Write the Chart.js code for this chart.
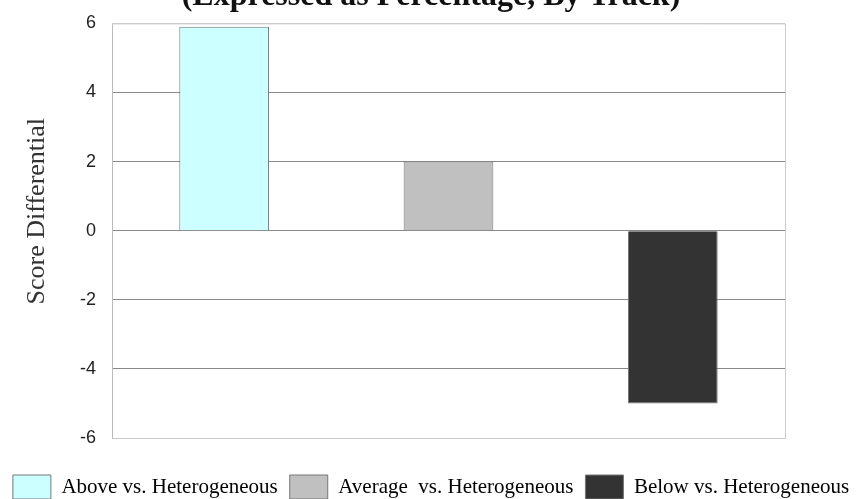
<!DOCTYPE html>
<html>
<head>
<meta charset="utf-8">
<script src="https://cdn.jsdelivr.net/npm/chart.js@4"></script>
<style>
  html, body { margin: 0; padding: 0; background: #fff; overflow: hidden; }
  #wrap { position: absolute; left: 0; top: -30px; width: 862px; height: 539px; }
</style>
</head>
<body>
<div id="wrap"><canvas id="scoreChart"></canvas></div>
<script>
// chart data
const categories = ["Above vs. Heterogeneous", "Average  vs. Heterogeneous", "Below vs. Heterogeneous"];
const scoreDiffs = [5.9, 2.0, -5.0];
const barColors = ["#ccffff", "#c0c0c0", "#333333"];
const yTicks = [-6, -4, -2, 0, 2, 4, 6];

// draw the light frame round the plot area (top and right edges)
const plotFrame = {
  id: "plotFrame",
  afterDraw(chart) {
    const { ctx, chartArea } = chart;
    ctx.save();
    ctx.strokeStyle = "#cccccc";
    ctx.lineWidth = 1;
    ctx.beginPath();
    ctx.moveTo(chartArea.left, chartArea.top + 0.5);
    ctx.lineTo(chartArea.right + 0.5, chartArea.top + 0.5);
    ctx.lineTo(chartArea.right + 0.5, chartArea.bottom);
    ctx.stroke();
    ctx.restore();
  },
};

const ctx = document.getElementById("scoreChart").getContext("2d");

new Chart(ctx, {
  type: "bar",
  data: {
    labels: categories,
    datasets: [
      {
        label: "Score Differential",
        data: scoreDiffs,
        backgroundColor: barColors,
        borderColor: "#777777",
        borderWidth: 1,
        barPercentage: 0.4,
        categoryPercentage: 1.0,
      },
    ],
  },
  options: {
    responsive: true,
    maintainAspectRatio: false,
    animation: false,
    layout: {
      padding: { left: 0, right: 0, top: 0, bottom: 0 },
    },
    scales: {
      x: {
        ticks: { display: false },
        grid: { display: false },
        border: { color: "#cccccc" },
        // no labels under the bars, just a gap above the legend
        afterFit: (axis) => {
          axis.height = 25;
        },
      },
      y: {
        min: -6,
        max: 6,
        afterBuildTicks: (axis) => {
          axis.ticks = yTicks.map((v) => ({ value: v }));
        },
        afterFit: (axis) => {
          axis.width = 112;
        },
        ticks: {
          color: "#222222",
          padding: 16,
          font: { family: "'Liberation Sans', Arial, sans-serif", size: 18 },
        },
        grid: {
          drawTicks: false,
          color: (c) =>
            c.tick && (c.tick.value === 6 || c.tick.value === -6) ? "#cccccc" : "#888888",
          lineWidth: 1,
        },
        border: { color: "#bbbbbb" },
        title: {
          display: true,
          // leading spaces lift the title a little above the plot's middle, as in the original
          text: "      Score Differential",
          color: "#333333",
          padding: { top: 22, bottom: 0 },
          font: { family: "'Liberation Serif', 'Times New Roman', serif", size: 26 },
        },
      },
      // empty axis on the right, only to keep the plot's right margin
      yRight: {
        position: "right",
        display: true,
        ticks: { display: false },
        grid: { display: false },
        border: { display: false },
        afterFit: (axis) => {
          axis.width = 77;
        },
      },
    },
    plugins: {
      title: {
        display: true,
        text: "(Expressed as Percentage, By Track)",
        color: "#111111",
        padding: { top: 8, bottom: 7 },
        font: { family: "'Liberation Serif', 'Times New Roman', serif", size: 32, weight: "bold" },
      },
      legend: {
        position: "bottom",
        labels: {
          boxWidth: 38,
          boxHeight: 24,
          padding: 12,
          color: "#111111",
          font: { family: "'Liberation Serif', 'Times New Roman', serif", size: 21 },
          generateLabels: () =>
            categories.map((name, i) => ({
              text: name,
              fillStyle: barColors[i],
              strokeStyle: "#777777",
              lineWidth: 1,
              hidden: false,
              index: i,
            })),
        },
        onClick: null,
      },
      tooltip: { enabled: false },
    },
  },
  plugins: [plotFrame],
});
</script>
</body>
</html>
